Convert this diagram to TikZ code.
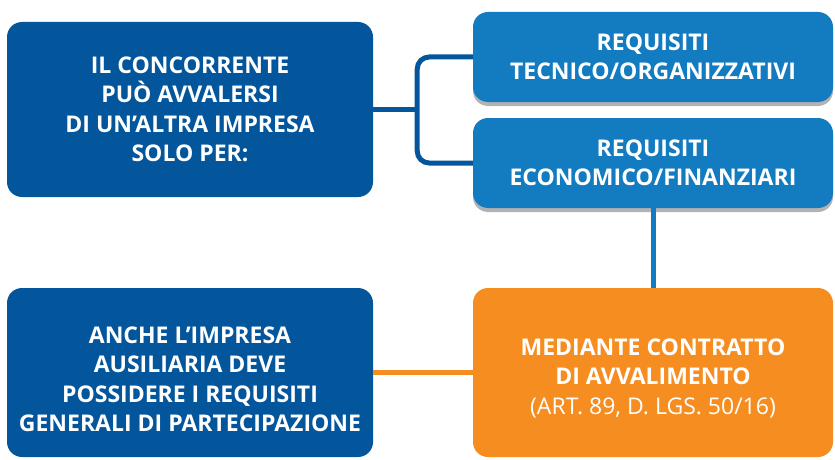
\documentclass[tikz,border=0pt]{standalone}
\usepackage{fontspec}
\setmainfont{Open Sans}
\usetikzlibrary{shadows}

\definecolor{bludark}{HTML}{04569C}
\definecolor{blulight}{HTML}{137BC0}
\definecolor{arancio}{HTML}{F68D20}

\begin{document}
\begin{tikzpicture}[x=1pt, y=1pt,
	box/.style={rounded corners=15pt, text=white, align=center, inner sep=0pt,
		font=\fontsize{23}{29.5}\selectfont\bfseries},
	ombra/.style={drop shadow={shadow xshift=0pt, shadow yshift=-4pt, fill=black, opacity=0.3}},
	link/.style={line width=5pt}]
	\useasboundingbox (0,0) rectangle (835,459);
	% left column
	\node[box, fill=bludark, minimum width=366pt, minimum height=175pt] (concorrente) at (190,349.5)
		{IL CONCORRENTE\\PUÒ AVVALERSI\\DI UN’ALTRA IMPRESA\\SOLO PER:};
	\node[box, fill=bludark, minimum width=366pt, minimum height=169pt] (ausiliaria) at (190,86.5)
		{\rule{0pt}{30pt}ANCHE L’IMPRESA\\AUSILIARIA DEVE\\POSSIDERE I REQUISITI\\GENERALI DI PARTECIPAZIONE};
	% right column
	\node[box, ombra, fill=blulight, minimum width=360pt, minimum height=90pt] (tecnici) at (653,402)
		{REQUISITI\\TECNICO/ORGANIZZATIVI};
	\node[box, ombra, fill=blulight, minimum width=360pt, minimum height=90pt] (economici) at (653,296)
		{REQUISITI\\ECONOMICO/FINANZIARI};
	\node[box, fill=arancio, minimum width=360pt, minimum height=169pt] (contratto) at (653,86.5)
		{\rule{0pt}{28pt}MEDIANTE CONTRATTO\\DI AVVALIMENTO\\{\mdseries (ART. 89, D. LGS. 50/16)}};
	% connectors
	\draw[link, color=bludark] (concorrente.east) -- ++(44,0) coordinate (bivio);
	\draw[link, color=bludark, rounded corners=12pt] (tecnici.west) -| (bivio) |- (economici.west);
	\draw[link, color=blulight] (economici.south) -- (contratto.north);
	\draw[link, color=arancio] (ausiliaria.east) -- (contratto.west);
\end{tikzpicture}
\end{document}
